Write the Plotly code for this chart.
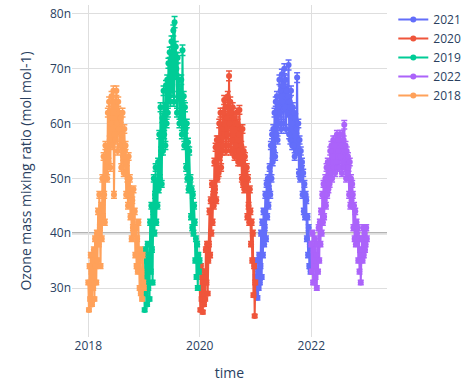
import pandas as pd
import plotly.graph_objects as go

# Ozone mass mixing ratio, sampled every 4 days, in units of 1e-9 mol mol-1
oz_2018 = [31, 26, 34, 28, 36, 33, 27, 35,
           30, 37, 28, 39, 34, 31, 40,
           35, 44, 38, 47, 41, 34, 45, 39,
           50, 43, 54, 47, 42, 56, 51,
           55, 50, 62, 53, 64, 57, 52, 60,
           65, 56, 61, 66, 47, 58, 64,
           57, 66, 60, 55, 64, 59, 62, 56,
           61, 52, 58, 62, 54, 51, 59, 55,
           56, 47, 53, 50, 45, 54, 48,
           50, 43, 47, 39, 46, 41, 48, 40,
           44, 36, 41, 34, 39, 33, 42,
           35, 30, 37, 29, 33, 28, 36, 31, 30]

oz_2019 = [33, 26, 37, 29, 35, 27, 38, 30,
           36, 28, 42, 33, 45, 37, 31,
           44, 50, 40, 47, 52, 42, 49, 45,
           53, 48, 58, 50, 63, 55, 49,
           61, 55, 66, 58, 63, 56, 67, 60,
           68, 62, 71, 65, 73, 64, 70,
           75, 66, 72, 77, 64, 78.5, 69, 74,
           70, 62, 72, 65, 68, 60, 66, 61,
           68, 58, 73.4, 60, 65, 56, 63,
           59, 52, 60, 50, 56.6, 48, 55, 49,
           50, 43, 48, 41, 47, 40, 45,
           42, 35, 39, 32, 38, 30, 36, 33, 35]

oz_2020 = [30, 26, 34, 28, 32, 25.6, 31, 27,
           33, 28, 37, 31, 38, 29, 35,
           38, 44, 36, 46, 40, 49, 42, 47,
           45, 53, 48, 55.7, 46, 57, 50,
           57, 51, 60, 54, 62, 52, 59, 55,
           62, 56, 64.3, 58, 63, 55, 61,
           58, 65, 56, 68.7, 60, 64, 55, 62,
           57, 63, 55, 61, 54, 60, 56, 62,
           54, 60, 53, 58, 62.5, 53, 59,
           56, 50, 59, 49, 55, 48, 54, 51,
           49, 52, 43, 50, 45, 42, 48,
           44, 38, 42, 35, 40, 28.7, 34, 24.9, 31]

oz_2021 = [32, 29, 35, 28.2, 33, 30, 36, 31,
           34, 40, 32, 42, 36, 44, 38,
           41, 47, 39, 49, 43, 50, 45, 48,
           52, 47, 56, 50, 58, 53, 59,
           55, 62, 54, 64, 58, 65, 57, 63,
           60, 68, 62, 66, 59, 69, 64,
           67, 60, 70, 63, 68, 59, 66, 62,
           65, 70.7, 58, 64, 57, 66, 60, 56,
           63, 56, 62, 54, 61, 55, 59,
           68.4, 55, 60, 51, 57, 50, 55, 52,
           53, 47, 51, 44, 49, 43, 47,
           46, 39, 43, 36, 41, 34, 38, 33, 37]

oz_2022 = [38, 33, 40, 31, 37, 34, 39, 32,
           36, 30, 38, 33, 41, 35, 42,
           38, 44, 40, 47, 42, 49, 43, 46,
           50, 45, 52, 47, 53, 48, 51,
           49, 55, 51, 56, 50, 54, 57, 52,
           56, 51, 57, 53, 58, 52, 55,
           57, 52, 58, 54, 56, 51, 58, 53,
           57, 59.8, 52, 56, 50, 55, 51, 54,
           52, 47, 53, 45, 50, 46, 49,
           47, 41, 45, 39, 44, 38, 42, 40,
           41, 35, 39, 33, 37, 31, 36,
           39, 35, 41, 36, 40, 37, 38, 41, 39]

# Legend order of the yearly series and their colours
years = ["2021", "2020", "2019", "2022", "2018"]
series = {"2018": oz_2018, "2019": oz_2019, "2020": oz_2020,
          "2021": oz_2021, "2022": oz_2022}
colors = {"2021": "#636efa", "2020": "#EF553B", "2019": "#00cc96",
          "2022": "#ab63fa", "2018": "#FFA15A"}

threshold = 40  # reference level, 1e-9 mol mol-1
rel_uncertainty = 1.3  # percent

fig = go.Figure()
for yr in years:
    vals = [v * 1e-9 for v in series[yr]]
    t = pd.date_range(f"{yr}-01-01", periods=len(vals), freq="4D")
    fig.add_trace(go.Scatter(
        x=t, y=vals, name=yr, mode="lines+markers",
        line=dict(color=colors[yr], width=2),
        marker=dict(color=colors[yr], size=6),
        error_y=dict(type="percent", value=rel_uncertainty,
                     color=colors[yr], thickness=1.5, width=3),
    ))

fig.add_hline(y=threshold * 1e-9, line_color="#9a9a9a", line_width=2,
              layer="below")

grid = "#dedede"
fig.update_layout(
    template="plotly_white",
    width=471, height=383,
    margin=dict(l=72, r=71, t=5, b=46),
    xaxis=dict(title=dict(text="time"), gridcolor=grid,
               range=["2017-09-16", "2023-05-12"]),
    yaxis=dict(title=dict(text="Ozone mass mixing ratio (mol mol-1)"),
               gridcolor=grid, range=[21.06e-9, 81.64e-9]),
    legend=dict(font=dict(size=12)),
)

fig.write_html("out.html")
